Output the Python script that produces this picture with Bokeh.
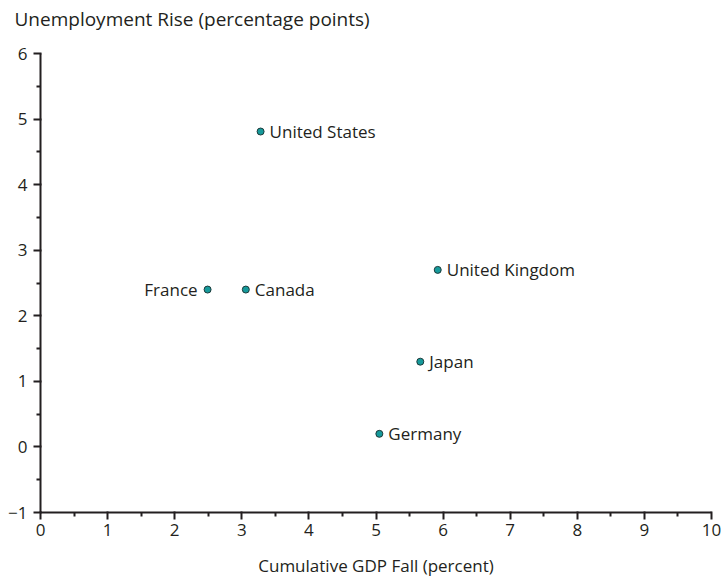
from bokeh.plotting import figure
from bokeh.models import ColumnDataSource, FixedTicker, Range1d, Title
from bokeh.core.properties import value
from bokeh.embed import file_html
from bokeh.resources import INLINE

countries = ["United States", "France", "Canada", "United Kingdom", "Japan", "Germany"]
gdp_fall = [3.28, 2.49, 3.06, 5.92, 5.66, 5.05]
unemp_rise = [4.81, 2.40, 2.40, 2.70, 1.30, 0.20]
x_ticks = list(range(0, 11))
y_ticks = list(range(-1, 7))

FONT = "Open Sans"
INK = "#231f20"

p = figure(width=723, height=579, output_backend="svg", toolbar_location=None,
           x_range=Range1d(0, 10), y_range=Range1d(-1, 6),
           min_border_left=40, min_border_right=12, min_border_top=53, min_border_bottom=67)
p.grid.visible = False
p.outline_line_color = None
p.background_fill_color = "white"

right_idx = [i for i, c in enumerate(countries) if c != "France"]
left_idx = [i for i, c in enumerate(countries) if c == "France"]

src_r = ColumnDataSource(dict(x=[gdp_fall[i] for i in right_idx], y=[unemp_rise[i] for i in right_idx],
                              name=[countries[i] for i in right_idx]))
src_l = ColumnDataSource(dict(x=[gdp_fall[i] for i in left_idx], y=[unemp_rise[i] for i in left_idx],
                              name=[countries[i] for i in left_idx]))
src_all = ColumnDataSource(dict(x=gdp_fall, y=unemp_rise))

p.scatter("x", "y", source=src_all, size=7, fill_color="#169a9b", line_color="#1c3a3a", line_width=1)
p.text("x", "y", text="name", source=src_r, x_offset=9, text_align="left", text_baseline="middle",
       text_font=value(FONT), text_font_size="17px", text_color=INK)
p.text("x", "y", text="name", source=src_l, x_offset=-10, text_align="right", text_baseline="middle",
       text_font=value(FONT), text_font_size="17px", text_color=INK)

xt = FixedTicker(ticks=x_ticks, minor_ticks=[t + 0.5 for t in x_ticks[:-1]])
yt = FixedTicker(ticks=y_ticks, minor_ticks=[t + 0.5 for t in y_ticks[:-1]])
p.xaxis.ticker = xt
p.yaxis.ticker = yt
p.yaxis.major_label_overrides = {t: (str(t).replace("-", "\u2212")) for t in y_ticks}

for ax in (p.xaxis, p.yaxis):
    ax.axis_line_width = 2
    ax.axis_line_color = INK
    ax.major_tick_line_width = 2
    ax.major_tick_line_color = INK
    ax.minor_tick_line_width = 2
    ax.minor_tick_line_color = INK
    ax.major_tick_out = 7
    ax.major_tick_in = 1
    ax.minor_tick_out = 4
    ax.minor_tick_in = 0
    ax.major_label_text_font = FONT
    ax.major_label_text_font_size = "17px"
    ax.major_label_text_color = INK
    ax.axis_label_text_font = FONT
    ax.axis_label_text_font_size = "17px"
    ax.axis_label_text_font_style = "normal"
    ax.axis_label_text_color = INK

p.xaxis.major_label_standoff = 4
p.yaxis.major_label_standoff = 6
p.xaxis.axis_label = "Cumulative GDP Fall (percent)"
p.xaxis.axis_label_standoff = 15

p.title = Title(text="Unemployment Rise (percentage points)", align="left", offset=-26,
                vertical_align="bottom", text_font=FONT, text_font_size="19px",
                text_font_style="normal", text_color=INK, standoff=2)
# spacer panel between the title and the frame
p.add_layout(Title(text=" ", text_font_size="1px", standoff=18), "above")

open("out.html", "w").write(file_html(p, INLINE))
